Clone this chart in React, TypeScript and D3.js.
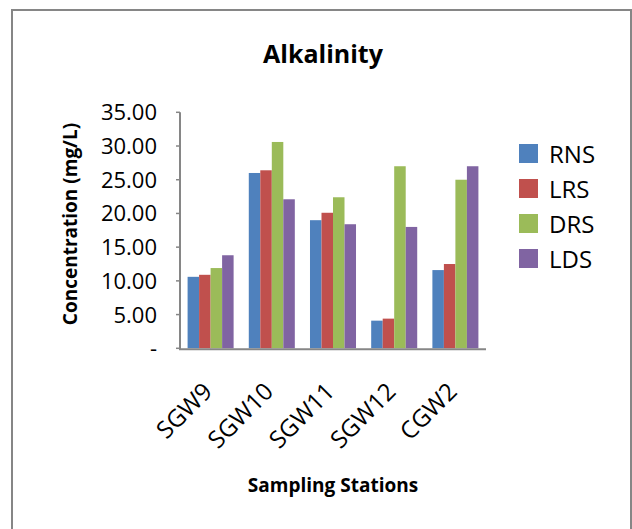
import React from "react";
import * as d3 from "d3";

// Alkalinity by sampling station, one bar per scenario
const categories = ["SGW9", "SGW10", "SGW11", "SGW12", "CGW2"];
const seriesNames = ["RNS", "LRS", "DRS", "LDS"];
const rnsValues = [10.6, 26.0, 19.0, 4.1, 11.6];
const lrsValues = [10.9, 26.4, 20.1, 4.4, 12.5];
const drsValues = [11.9, 30.6, 22.4, 27.0, 25.0];
const ldsValues = [13.8, 22.1, 18.4, 18.0, 27.0];
const yTicks = [0, 5, 10, 15, 20, 25, 30, 35];
const colors = ["#4F81BD", "#C0504D", "#9BBB59", "#8064A2"];

const seriesValues = [rnsValues, lrsValues, drsValues, ldsValues];

const W = 632;
const H = 529;
const plotLeft = 180;
const plotRight = 486;
const plotTop = 112.3;
const plotBottom = 348.3;
const font = "'Open Sans', 'Noto Sans', sans-serif";
const axisColor = "#868686";

export default function App() {
  const y = d3.scaleLinear().domain([0, 35]).range([plotBottom, plotTop]);
  const x = d3
    .scaleBand<string>()
    .domain(categories)
    .range([plotLeft, plotRight])
    .paddingInner(0.248)
    .paddingOuter(0.124);
  const xs = d3
    .scaleBand<string>()
    .domain(seriesNames)
    .range([0, x.bandwidth()])
    .padding(0);

  return (
    <svg
      width={W}
      height={H}
      style={{ position: "absolute", left: 0, top: 0, background: "#fff" }}
      fontFamily={font}
    >
      <rect x={0} y={0} width={W} height={H} fill="#fff" />
      <rect
        x={12}
        y={10}
        width={619}
        height={540}
        fill="none"
        stroke={axisColor}
        strokeWidth={2}
      />
      <text
        x={323}
        y={63}
        textAnchor="middle"
        fontSize={25}
        fontWeight="bold"
        fill="#000"
      >
        Alkalinity
      </text>

      {/* bars */}
      {categories.map((c, ci) => (
        <g key={c} transform={`translate(${x(c)},0)`}>
          {seriesNames.map((s, si) => (
            <rect
              key={s}
              x={xs(s)}
              y={y(seriesValues[si][ci])}
              width={xs.bandwidth()}
              height={y(0) - y(seriesValues[si][ci])}
              fill={colors[si]}
            />
          ))}
        </g>
      ))}

      {/* value axis */}
      <line
        x1={plotLeft}
        x2={plotLeft}
        y1={plotTop}
        y2={plotBottom + 1}
        stroke={axisColor}
        strokeWidth={2}
      />
      {yTicks.map((t) => (
        <g key={t}>
          <line
            x1={plotLeft - 4}
            x2={plotLeft}
            y1={y(t)}
            y2={y(t)}
            stroke={axisColor}
            strokeWidth={1.5}
          />
          <text
            x={157}
            y={y(t) + 8}
            textAnchor="end"
            fontSize={22}
            fill="#000"
          >
            {t === 0 ? "-" : t.toFixed(2)}
          </text>
        </g>
      ))}

      {/* category axis */}
      <line
        x1={plotLeft - 1}
        x2={plotRight}
        y1={plotBottom + 1}
        y2={plotBottom + 1}
        stroke={axisColor}
        strokeWidth={2}
      />
      {categories.map((c) => {
        const cx = (x(c) ?? 0) + x.bandwidth() / 2 + 3;
        return (
          <text
            key={c}
            transform={`translate(${cx},393) rotate(-45)`}
            textAnchor="end"
            fontSize={24}
            fill="#000"
          >
            {c}
          </text>
        );
      })}

      <text
        x={333}
        y={492}
        textAnchor="middle"
        fontSize={19}
        fontWeight="bold"
        fill="#000"
      >
        Sampling Stations
      </text>
      <text
        transform={`translate(77,224) rotate(-90)`}
        textAnchor="middle"
        fontSize={19}
        fontWeight="bold"
        fill="#000"
      >
        Concentration (mg/L)
      </text>

      {/* legend */}
      {seriesNames.map((s, i) => (
        <g key={s} transform={`translate(519,${144 + i * 35})`}>
          <rect width={19} height={19} fill={colors[i]} />
          <text x={30} y={19} fontSize={24} fill="#000">
            {s}
          </text>
        </g>
      ))}
    </svg>
  );
}
